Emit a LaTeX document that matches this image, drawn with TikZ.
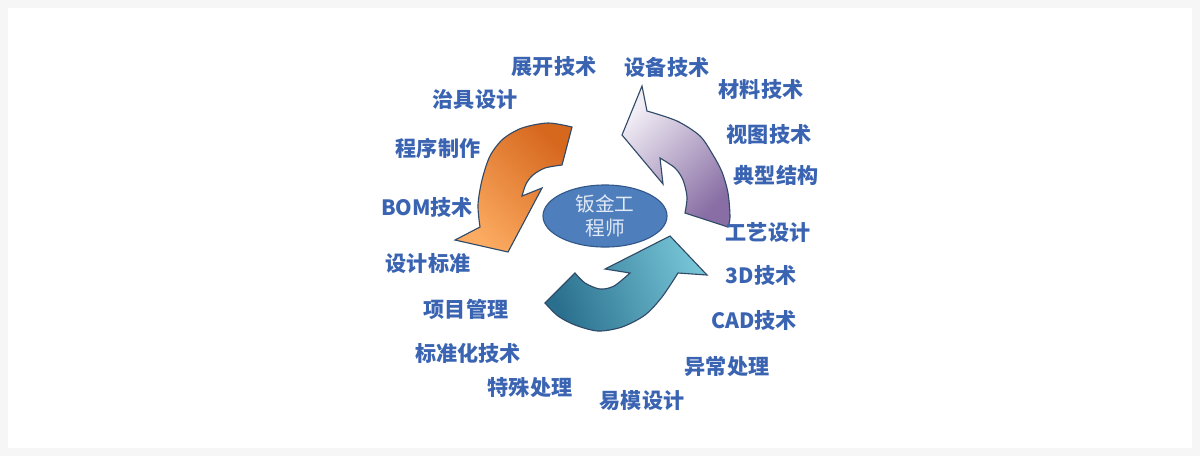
\documentclass[tikz,border=0pt]{standalone}
\usepackage{fontspec}
\usetikzlibrary{shapes.geometric}
\newfontfamily\cjk{Noto Sans CJK SC}
\definecolor{frame}{RGB}{246,246,246}
\definecolor{lblue}{RGB}{58,100,178}
\definecolor{ellfill}{RGB}{79,126,189}
\definecolor{elldraw}{RGB}{50,88,138}
\definecolor{elltext}{RGB}{225,234,246}
\definecolor{rim}{RGB}{48,74,104}
\definecolor{orgL}{RGB}{252,172,98}
\definecolor{orgD}{RGB}{214,104,30}
\definecolor{purL}{RGB}{242,238,246}
\definecolor{purD}{RGB}{136,110,164}
\definecolor{teaL}{RGB}{118,196,214}
\definecolor{teaD}{RGB}{42,112,142}
\begin{document}
\begin{tikzpicture}[x=0.025cm,y=-0.025cm,
    lbl/.style={text=lblue,font=\cjk\bfseries\fontsize{15}{18}\selectfont,inner sep=0pt},
    arrowbody/.style={draw=rim,line width=0.8pt}]
  \fill[frame] (0,0) rectangle (1200,456);
  \fill[white] (8,8) rectangle (1192,448);
  % orange arrow, tail top right
  \draw[arrowbody,top color=orgL,bottom color=orgD,shading angle=135]
    (562,165) -- plot[smooth] coordinates {(562,165) (545,168) (533,175) (526,184) (522,196)}
    -- (542,188) -- (508,252) -- (455,240) -- (480,227)
    -- plot[smooth] coordinates {(480,227) (478,205) (482,180) (490,156) (503,139) (522,128) (548,123) (572,127)}
    -- cycle;
  % purple arrow, tail bottom right
  \draw[arrowbody,top color=purL,bottom color=purD,shading angle=45]
    (685,213) -- plot[smooth] coordinates {(685,213) (687,197) (683,180) (675,168) (660,158)}
    -- (663,184) -- (622,135) -- (642,86) -- (647,111)
    -- plot[smooth] coordinates {(647,111) (677,121) (700,136) (713,155) (722,172) (728,193) (730,217) (728,227)}
    -- cycle;
  % teal arrow, tail bottom left
  \draw[arrowbody,top color=teaL,bottom color=teaD,shading angle=-70]
    (575,273) -- plot[smooth] coordinates {(575,273) (585,283) (600,289) (614,286) (630,273)}
    -- (605,269) -- (670,236) -- (707,275) -- (678,273)
    -- plot[smooth] coordinates {(678,273) (662,297) (645,315) (622,327) (598,331) (575,325) (558,316) (545,303)}
    -- cycle;
  \node[ellipse,draw=elldraw,line width=0.8pt,fill=ellfill,minimum width=3.1cm,minimum height=1.55cm,
        inner sep=0pt,align=center,text=elltext,font=\cjk\fontsize{14}{17.5}\selectfont] (eng) at (605,216) {钣金工\\程师};
  \foreach \x/\y/\txt [count=\i] in {554/67/展开技术, 667/67/设备技术, 761/89/材料技术, 475/100/治具设计,
      769/134/视图技术, 438/148/程序制作, 776/175/典型结构, 427/207/BOM技术, 768/233/工艺设计,
      428/264/设计标准, 761/275/3D技术, 466/309/项目管理, 754/320/CAD技术, 468/353/标准化技术,
      727/367/异常处理, 530/388/特殊处理, 642/401/易模设计}{
    \node[lbl] (lab\i) at (\x,\y) {\txt};
  }
\end{tikzpicture}
\end{document}
